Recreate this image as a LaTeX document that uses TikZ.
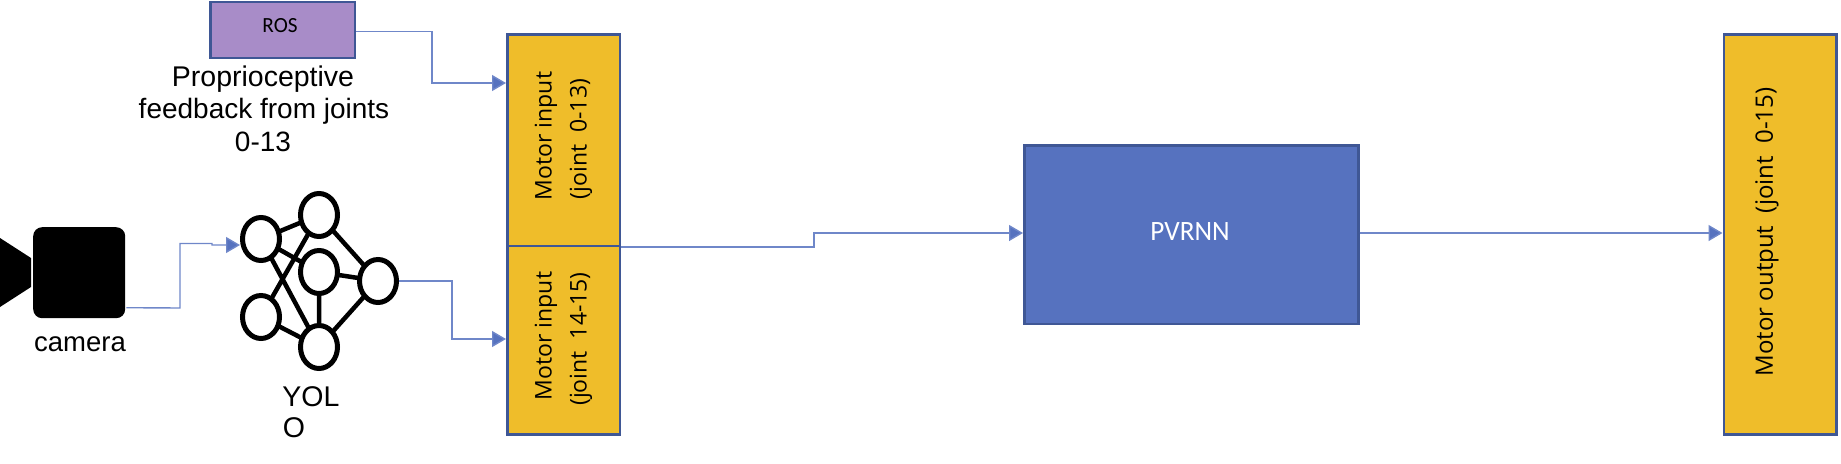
\documentclass[tikz,border=0pt]{standalone}
\usepackage{fontspec}
\setmainfont{Liberation Sans}
\newfontfamily\carl{Carlito}
\newfontfamily\ops{Open Sans}
\usetikzlibrary{arrows.meta,shapes.geometric,backgrounds}
\definecolor{yel}{HTML}{EFBD2A}
\definecolor{blu}{HTML}{5672BF}
\definecolor{edg}{HTML}{3F5795}
\definecolor{pur}{HTML}{A88CC8}
\tikzset{
  x=1pt,y=-1pt,
  boxbase/.style={rectangle,draw=edg,line width=2.5pt,inner sep=0pt,anchor=north west},
  yelbox/.style={boxbase,fill=yel,minimum width=112.5pt},
  link/.style={draw=blu!85!white,line width=1.4pt,-{Triangle[length=14pt,width=16pt,fill=blu]}},
  neuron/.style={ellipse,draw=black,line width=5pt,fill=white,minimum width=37pt,minimum height=43pt,inner sep=0pt},
  syn/.style={draw=black,line width=4.5pt},
  lab/.style={inner sep=0pt,align=center,text=black},
}
\begin{document}
\begin{tikzpicture}
\useasboundingbox (0,0) rectangle (1841,463);
% boxes
\node[boxbase,fill=pur,minimum width=144.5pt,minimum height=56pt] (ros) at (209,0.5) {};
\node[lab] (roslabel) at (280,26) {\scalebox{1.18}[1.2]{\carl\fontsize{18}{18}\selectfont ROS}};
\node[yelbox,minimum height=211.5pt] (m1) at (506,33) {};
\node[yelbox,minimum height=188.5pt] (m2) at (506,244.5) {};
\node[boxbase,fill=blu,minimum width=334pt,minimum height=178.5pt] (pv) at (1023,144) {};
\node[lab,text=white] (pvlabel) at (1190,232) {\scalebox{1.36}[1.4]{\carl\fontsize{20}{20}\selectfont PVRNN}};
\node[yelbox,minimum height=400pt] (mo) at (1722.5,33) {};
% box texts
\node[lab,rotate=90] (m1a) at (546,136) {\ops\fontsize{23}{23}\selectfont Motor input};
\node[lab,rotate=90] (m1b) at (581,139) {\ops\fontsize{23}{23}\selectfont (joint\ \ 0-13)};
\node[lab,rotate=90] (m2a) at (546,336) {\ops\fontsize{23}{23}\selectfont Motor input};
\node[lab,rotate=90] (m2b) at (581,339) {\ops\fontsize{23}{23}\selectfont (joint\ \ 14-15)};
\node[lab,rotate=90] (motext) at (1767,232) {\ops\fontsize{24}{24}\selectfont Motor output\ \ (joint\ \ 0-15)};
% labels
\node[lab] (pr1) at (263,79) {\fontsize{28.5}{28.5}\selectfont Proprioceptive};
\node[lab] (pr2) at (264,111) {\fontsize{28}{28}\selectfont feedback from joints};
\node[lab] (pr3) at (263,142) {\fontsize{28}{28}\selectfont 0-13};
\node[lab] (camlabel) at (80,344) {\fontsize{27.5}{27.5}\selectfont camera};
\node[lab] (yol) at (311,397) {\fontsize{28.5}{28.5}\selectfont YOL};
\node[lab] (yolo) at (294,428) {\fontsize{28.5}{28.5}\selectfont O};
% camera
\node[rectangle,fill=black,rounded corners=9pt,minimum width=92pt,minimum height=91pt,inner sep=0pt,anchor=north west] (cam) at (33,227) {};
\fill[black] (0,238) -- (31,258) -- (31,287) -- (0,307) -- cycle;
% network
\node[neuron] (n1) at (261,239) {};
\node[neuron] (n2) at (319,215) {};
\node[neuron] (n3) at (319,272) {};
\node[neuron] (n4) at (378,281) {};
\node[neuron] (n5) at (261,317) {};
\node[neuron] (n6) at (319,347) {};
\begin{pgfonlayer}{background}
\draw[syn] (n1.center)--(n2.center) (n1.center)--(n3.center) (n1.center)--(n6.center) (n2.center)--(n5.center) (n2.center)--(n4.center) (n3.center)--(n4.center) (n3.center)--(n6.center) (n4.center)--(n6.center) (n5.center)--(n6.center);
\end{pgfonlayer}
% connectors
\coordinate (c1) at (180,243.5);
\coordinate (c2) at (212,243.5);
\coordinate (c3) at (212,245);
\draw[link] ([yshift=-35pt]cam.east) ++(1,0) -- (180,308) -- (c1) -- (c2) -- (c3) -- (n1.west |- c3);
\draw[link] ([yshift=-2pt]ros.east) -| (432,83) -- (m1.west |- 0,83);
\draw[link] (n4.east) -- (452,281) -- (452,339) -- (m2.west |- 0,339);
\draw[link] (m1.south east) -| (814,233) -- (pv.west |- 0,233);
\draw[link] (pv.east |- 0,233) -- (mo.west |- 0,233);
\end{tikzpicture}
\end{document}
